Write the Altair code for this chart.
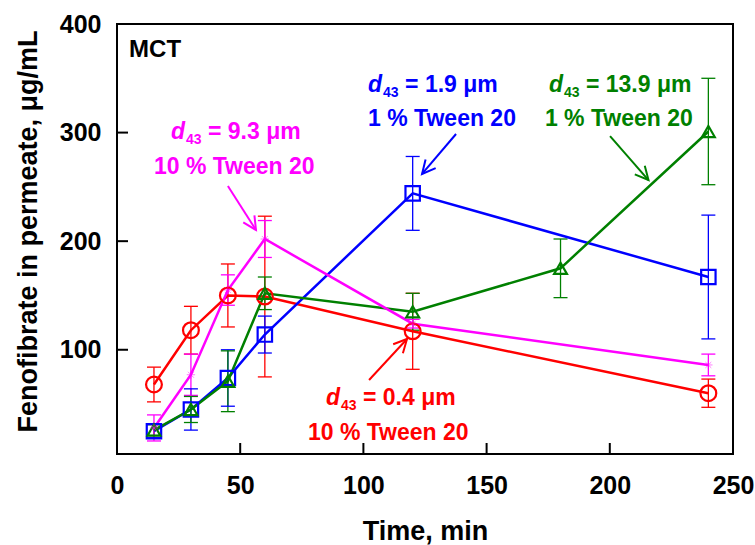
import math
import altair as alt
import pandas as pd

FONT = "Liberation Sans"

# ---------------- data ----------------
time_main = [15, 30, 45, 60, 120, 240]
time_green = [15, 30, 45, 60, 120, 180, 240]

red_vals = [68, 118, 150, 149, 117, 60]
red_err = [16, 22, 29, 74, 35, 13]
blue_vals = [25, 45, 74, 114, 244, 167]
blue_err = [6, 19, 26, 17, 34, 57]
green_vals = [26, 45, 71, 152, 135, 175, 301]
green_err = [5, 12, 28, 15, 17, 27, 49]
mag_vals = [28, 77, 155, 202, 124, 86]
mag_err = [12, 19, 14, 17, 4, 10]

series_names = ["0.4 um", "1.9 um", "13.9 um", "9.3 um"]
series_colors = ["#FF0000", "#0000FF", "#008000", "#FF00FF"]
series_shapes = ["circle", "square", "triangle-up",
                 "M-1,0L1,0M0,-1L0,1M-0.7,-0.7L0.7,0.7M-0.7,0.7L0.7,-0.7"]

x_ticks = [0, 50, 100, 150, 200, 250]
y_ticks = [100, 200, 300, 400]

# annotation texts
ann_line1 = ["= 0.4 μm", "= 1.9 μm", "= 13.9 μm", "= 9.3 μm"]
ann_line2 = ["10 % Tween 20", "1 % Tween 20", "1 % Tween 20", "10 % Tween 20"]
ann_x = [84.8, 101.9, 175.3, 21.9]
ann_y = [49.1, 337.6, 337.6, 294.5]
ann_l2_dx = [-18, 0, -4, -17]      # px offset of second line
ann_l2_dy = [35, 34, 34, 35.5]

arrow_x1 = [102.3, 137.6, 200.1, 45.0]
arrow_y1 = [72.1, 298.7, 296.8, 250.8]
arrow_x2 = [117.7, 123.8, 215.7, 56.4]
arrow_y2 = [109.9, 261.9, 256.3, 210.3]

# ---------------- layout ----------------
W, H = 616, 430
XD = [0, 250]
YD = [4, 400]
PXX = W / (XD[1] - XD[0])
PXY = H / (YD[1] - YD[0])

xs = alt.Scale(domain=XD, nice=False, zero=False)
ys = alt.Scale(domain=YD, nice=False, zero=False)

x_axis = alt.Axis(values=x_ticks, format="d", ticks=False, tickSize=0, domain=False,
                  grid=False, labelFont=FONT, labelFontSize=25, labelFontWeight="bold",
                  labelColor="black", labelPadding=39, labelBaseline="alphabetic",
                  labelFlush=False,
                  titleFont=FONT, titleFontSize=27, titleFontWeight="bold", titleColor="black",
                  titleBaseline="alphabetic", titleY=85, titleX=W / 2, titleAlign="center")
y_axis = alt.Axis(values=y_ticks, format="d", ticks=False, tickSize=0, domain=False,
                  grid=False, labelFont=FONT, labelFontSize=25, labelFontWeight="bold",
                  labelColor="black", labelPadding=16, labelFlush=False,
                  titleFont=FONT, titleFontSize=27, titleFontWeight="bold", titleColor="black",
                  titleAngle=270, titleBaseline="alphabetic", titleX=-81, titleY=H / 2 - 8,
                  titleAlign="center")

XT = "Time, min"
YT = "Fenofibrate in permeate, μg/mL"


def X(field):
    return alt.X(field, type="quantitative", scale=xs, axis=x_axis, title=XT)


def Y(field):
    return alt.Y(field, type="quantitative", scale=ys, axis=y_axis, title=YT)


# ---------------- tables ----------------
rows = []
for name, col, shp, ts, vs, es in [
    (series_names[0], series_colors[0], series_shapes[0], time_main, red_vals, red_err),
    (series_names[1], series_colors[1], series_shapes[1], time_main, blue_vals, blue_err),
    (series_names[2], series_colors[2], series_shapes[2], time_green, green_vals, green_err),
    (series_names[3], series_colors[3], series_shapes[3], time_main, mag_vals, mag_err),
]:
    for t, v, e in zip(ts, vs, es):
        rows.append({"series": name, "col": col, "shape": shp, "t": t, "v": v,
                     "lo": v - e, "hi": v + e})
df = pd.DataFrame(rows)

caps = pd.concat([
    df[["series", "col", "t", "lo"]].rename(columns={"lo": "cy"}),
    df[["series", "col", "t", "hi"]].rename(columns={"hi": "cy"}),
])

color = alt.Color("col:N", scale=None)

err_rules = alt.Chart(df).mark_rule(strokeWidth=1.3).encode(
    x=X("t"), y=Y("lo"), y2="hi", color=color)
err_caps = alt.Chart(caps).mark_point(shape="M-1,0L1,0", size=196, strokeWidth=1.3,
                                      filled=False, opacity=1).encode(
    x=X("t"), y=Y("cy"), color=color)

lines = alt.Chart(df).mark_line(strokeWidth=2.5).encode(
    x=X("t"), y=Y("v"), color=color, detail="series:N", order="t:Q")

main_pts = df[df["series"] != series_names[3]]
mag_pts = df[df["series"] == series_names[3]]
points = alt.Chart(main_pts).mark_point(filled=False, strokeWidth=2.2, opacity=1).encode(
    x=X("t"), y=Y("v"), color=color,
    shape=alt.Shape("shape:N", scale=None),
    size=alt.Size("shape:N", scale=alt.Scale(domain=series_shapes[:3],
                                             range=[250, 165, 250]), legend=None))
mag_marks = alt.Chart(mag_pts).mark_point(shape=series_shapes[3], size=70, strokeWidth=1,
                                          filled=False, opacity=0.5).encode(
    x=X("t"), y=Y("v"), color=color)

# inward ticks
xt = pd.DataFrame({"tv": x_ticks[1:-1]})
yt = pd.DataFrame({"tv": y_ticks[:-1]})
x_tick_marks = alt.Chart(xt).mark_rule(color="black", strokeWidth=2).encode(
    x=X("tv"), y=alt.value(H), y2=alt.value(H - 11))
y_tick_marks = alt.Chart(yt).mark_rule(color="black", strokeWidth=2).encode(
    y=Y("tv"), x=alt.value(0), x2=alt.value(11))

# annotations
ann = pd.DataFrame({
    "col": series_colors,
    "x": ann_x, "y": ann_y,
    "l1": ann_line1, "l2": ann_line2,
})
ann["dx"] = ann["x"]
ann["sx"] = ann["x"] + 15 / PXX
ann["sy"] = ann["y"] - 5 / PXY
ann["ex"] = ann["x"] + 37 / PXX
ann["x2l"] = ann["x"] + pd.Series(ann_l2_dx) / PXX
ann["y2l"] = ann["y"] - pd.Series(ann_l2_dy) / PXY
ann["d"] = "d"
ann["sub"] = "43"

base_txt = dict(align="left", baseline="alphabetic", font=FONT, fontWeight="bold")
t_d = alt.Chart(ann).mark_text(fontSize=23, fontStyle="italic", **base_txt).encode(
    x=X("dx"), y=Y("y"), text="d:N", color=color)
t_sub = alt.Chart(ann).mark_text(fontSize=14, **base_txt).encode(
    x=X("sx"), y=Y("sy"), text="sub:N", color=color)
t_l1 = alt.Chart(ann).mark_text(fontSize=23, **base_txt).encode(
    x=X("ex"), y=Y("y"), text="l1:N", color=color)
t_l2 = alt.Chart(ann).mark_text(fontSize=23, **base_txt).encode(
    x=X("x2l"), y=Y("y2l"), text="l2:N", color=color)

mct = pd.DataFrame({"x": [4.9], "y": [369.3], "txt": ["MCT"]})
t_mct = alt.Chart(mct).mark_text(fontSize=24, color="black", **base_txt).encode(
    x=X("x"), y=Y("y"), text="txt:N")

arr = pd.DataFrame({"col": series_colors, "x1": arrow_x1, "y1": arrow_y1,
                    "x2": arrow_x2, "y2": arrow_y2})
arr["ang"] = [
    (math.degrees(math.atan2(-(b2 - b1) * PXY, (a2 - a1) * PXX)) + 360) % 360
    for a1, b1, a2, b2 in zip(arrow_x1, arrow_y1, arrow_x2, arrow_y2)
]
arrow_lines = alt.Chart(arr).mark_rule(strokeWidth=2).encode(
    x=X("x1"), y=Y("y1"), x2="x2", y2="y2", color=color)
arrow_heads = alt.Chart(arr).mark_point(shape="M-1,-0.5L0,0L-1,0.5", size=700,
                                        filled=False, strokeWidth=2, opacity=1).encode(
    x=X("x2"), y=Y("y2"), color=color, angle=alt.Angle("ang:Q", scale=None))

chart = alt.layer(
    x_tick_marks, y_tick_marks,
    err_rules, err_caps, lines, points, mag_marks,
    arrow_lines, arrow_heads,
    t_d, t_sub, t_l1, t_l2, t_mct,
).properties(
    width=W, height=H,
    autosize="none",
    padding={"left": 117, "top": 24, "right": 22, "bottom": 91},
    background="white",
).configure_view(stroke="black", strokeWidth=2)

chart.save("out.html", embed_options={"renderer": "svg", "actions": False})
